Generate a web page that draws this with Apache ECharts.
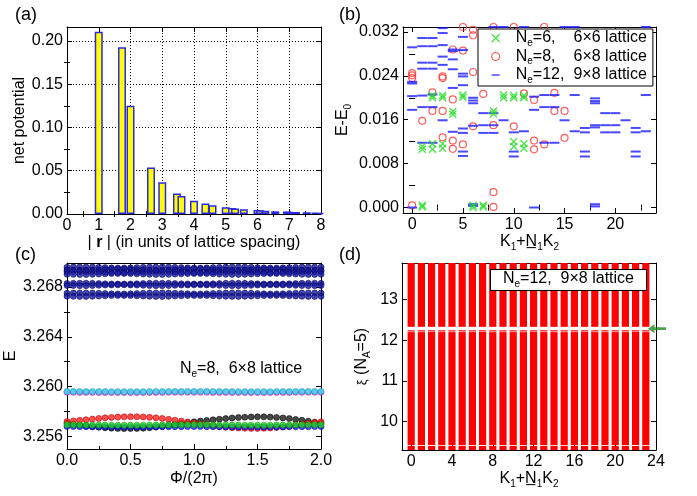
<!DOCTYPE html>
<html>
<head>
<meta charset="utf-8">
<title>figure</title>
<script src="https://cdn.jsdelivr.net/npm/echarts@6/dist/echarts.min.js"></script>
<style>body{margin:0;background:#fff}</style>
</head>
<body>
<div id="main" style="width:697px;height:496px;"></div>
<script type="text/javascript">
// ---- (a) net potential vs distance
var rDist  = [1, 1.732, 2, 2.646, 3, 3.464, 3.606, 4, 4.359, 4.583, 5, 5.196, 5.292, 5.568, 6, 6.083, 6.245, 6.557, 6.928, 7, 7.211, 7.550, 7.810, 8];
var netPot = [0.2104, 0.1926, 0.1249, 0.0536, 0.0366, 0.0236, 0.0209, 0.0153, 0.0122, 0.0101, 0.0077, 0.0070, 0.0064, 0.0054, 0.0046, 0.0042, 0.0037, 0.0031, 0.0029, 0.0026, 0.0023, 0.0020, 0.0016, 0.0014];

// ---- (b) spectra [K, E-E0]
var ne6 = [[1,0.0004],[1,0.0001],[1,0.0111],[1,0.0106],[2,0.0116],[2,0.0106],[2,0.0204],[2,0.0200],
  [3,0.0116],[3,0.0108],[3,0.0204],[3,0.0200],[4,0.0175],[4,0.0170],[5,0.0205],[5,0.0201],
  [6,0.0004],[6,0.0000],[7,0.0004],[7,0.0001],[8,0.0176],[8,0.0171],[9,0.0205],[9,0.0200],
  [10,0.0204],[10,0.0200],[10,0.0120],[10,0.0111],[11,0.0204],[11,0.0200],[11,0.0116],[11,0.0108]];
var ne8 = [[0,0.0004],[0,0.0245],[0,0.0241],[0,0.0236],[1,0.0158],[2,0.0210],[2,0.0176],
  [3,0.0239],[3,0.0236],[3,0.0176],[3,0.0128],[4,0.0288],[4,0.0197],[4,0.0122],[4,0.0107],
  [5,0.0329],[5,0.0286],[5,0.0115],[6,0.0324],[6,0.0314],[6,0.0247],[6,0.0148],[7,0.0207],
  [8,0.0329],[8,0.0150],[8,0.0028],[8,0.0001],[10,0.0329],[10,0.0148],[11,0.0208],
  [12,0.0196],[12,0.0122],[12,0.0106],[13,0.0329],[13,0.0115],[14,0.0209],[14,0.0176],
  [15,0.0176],[15,0.0127]];
var ne12 = [[0,0.0292],[0,0.0229],[0,0.0226],[0,0.0203],[0,0.0178],[0,0.0000],
  [1,0.0309],[1,0.0294],[1,0.0264],[1,0.0253],[1,0.0204],[1,0.0183],[1,0.0118],
  [2,0.0309],[2,0.0294],[2,0.0264],[2,0.0253],[2,0.0206],[2,0.0183],[2,0.0118],
  [3,0.0327],[3,0.0318],[3,0.0296],[3,0.0275],[3,0.0260],[3,0.0159],
  [4,0.0288],[4,0.0285],[4,0.0270],[4,0.0252],[4,0.0218],[4,0.0138],
  [5,0.0330],[5,0.0311],[5,0.0287],[5,0.0244],[5,0.0239],[5,0.0223],[5,0.0144],[5,0.0136],[5,0.0102],[5,0.0094],
  [6,0.0200],[6,0.0195],[6,0.0190],[6,0.0149],[6,0.0006],[6,0.0003],
  [7,0.0172],[7,0.0150],[7,0.0136],[8,0.0329],[8,0.0172],[8,0.0150],[8,0.0136],
  [9,0.0329],[9,0.0159],[10,0.0137],[10,0.0102],[10,0.0093],[11,0.0329],[11,0.0139],
  [12,0.0202],[12,0.0178],[12,0.0000],[13,0.0205],[13,0.0183],[13,0.0118],
  [14,0.0205],[14,0.0183],[14,0.0118],[15,0.0329],[15,0.0159],[16,0.0329],[16,0.0205],[16,0.0139],
  [17,0.0145],[17,0.0137],[17,0.0102],[17,0.0093],
  [18,0.0199],[18,0.0194],[18,0.0190],[18,0.0150],[18,0.0146],[18,0.0006],[18,0.0002],
  [19,0.0172],[19,0.0150],[19,0.0137],[20,0.0172],[20,0.0150],[20,0.0137],[21,0.0159],
  [22,0.0145],[22,0.0137],[22,0.0102],[22,0.0093],[23,0.0329],[23,0.0205],[23,0.0139]];

// ---- (c) flux insertion
var phi = [0,0.05,0.1,0.15,0.2,0.25,0.3,0.35,0.4,0.45,
  0.5,0.55,0.6,0.65,0.7,0.75,0.8,0.85,0.9,0.95,
  1,1.05,1.1,1.15,1.2,1.25,1.3,1.35,1.4,1.45,
  1.5,1.55,1.6,1.65,1.7,1.75,1.8,1.85,1.9,1.95,2];
var cRed = [3.25720,3.25725,3.25730,3.25735,3.25740,3.25745,3.25750,3.25753,3.25756,3.25758,
  3.25759,3.25759,3.25757,3.25754,3.25750,3.25745,3.25738,3.25731,3.25724,3.25716,
  3.25708,3.25700,3.25693,3.25686,3.25680,3.25675,3.25671,3.25668,3.25666,3.25665,
  3.25665,3.25666,3.25668,3.25672,3.25677,3.25683,3.25690,3.25698,3.25705,3.25712,3.25718];
var cBlack = [3.25706,3.25699,3.25692,3.25685,3.25679,3.25674,3.25670,3.25667,3.25665,3.25664,
  3.25664,3.25665,3.25667,3.25671,3.25676,3.25682,3.25689,3.25697,3.25704,3.25711,
  3.25718,3.25724,3.25729,3.25734,3.25739,3.25744,3.25749,3.25752,3.25755,3.25757,
  3.25758,3.25758,3.25756,3.25753,3.25749,3.25744,3.25737,3.25730,3.25723,3.25715,3.25707];
var cBlue = [3.25680,3.25680,3.25679,3.25679,3.25678,3.25678,3.25677,3.25677,3.25677,3.25676,
  3.25676,3.25676,3.25677,3.25677,3.25677,3.25678,3.25678,3.25679,3.25679,3.25680,
  3.25680,3.25680,3.25679,3.25679,3.25678,3.25678,3.25677,3.25677,3.25677,3.25676,
  3.25676,3.25676,3.25677,3.25677,3.25677,3.25678,3.25678,3.25679,3.25679,3.25680,3.25680];
var cGreen = [3.25694,3.25694,3.25693,3.25693,3.25692,3.25692,3.25692,3.25691,3.25691,3.25691,
  3.25691,3.25691,3.25691,3.25692,3.25692,3.25693,3.25693,3.25694,3.25694,3.25695,
  3.25695,3.25695,3.25694,3.25694,3.25693,3.25693,3.25692,3.25692,3.25691,3.25691,
  3.25691,3.25691,3.25691,3.25692,3.25692,3.25693,3.25693,3.25694,3.25694,3.25695,3.25695];
var cMagenta = [3.25955,3.25955,3.25954,3.25954,3.25954,3.25953,3.25953,3.25953,3.25953,3.25953,
  3.25953,3.25953,3.25953,3.25954,3.25954,3.25954,3.25955,3.25955,3.25955,3.25955,
  3.25955,3.25955,3.25955,3.25954,3.25954,3.25954,3.25953,3.25953,3.25953,3.25953,
  3.25953,3.25953,3.25953,3.25954,3.25954,3.25954,3.25955,3.25955,3.25955,3.25955,3.25955];
var cCyan = [3.25962,3.25962,3.25962,3.25961,3.25961,3.25961,3.25961,3.25960,3.25960,3.25960,
  3.25960,3.25960,3.25960,3.25961,3.25961,3.25961,3.25961,3.25962,3.25962,3.25962,
  3.25962,3.25962,3.25962,3.25961,3.25961,3.25961,3.25961,3.25960,3.25960,3.25960,
  3.25960,3.25960,3.25960,3.25961,3.25961,3.25961,3.25961,3.25962,3.25962,3.25962,3.25962];
var cNavy1 = [3.26958,3.26959,3.26960,3.26960,3.26959,3.26957,3.26955,3.26953,3.26952,3.26952,
  3.26953,3.26955,3.26957,3.26959,3.26960,3.26960,3.26959,3.26957,3.26955,3.26953,
  3.26952,3.26952,3.26953,3.26955,3.26957,3.26959,3.26960,3.26960,3.26959,3.26957,
  3.26955,3.26953,3.26952,3.26952,3.26953,3.26955,3.26957,3.26959,3.26960,3.26960,3.26959];
var cNavy2 = [3.26936,3.26935,3.26934,3.26934,3.26935,3.26937,3.26939,3.26941,3.26942,3.26942,
  3.26941,3.26939,3.26937,3.26935,3.26934,3.26934,3.26935,3.26937,3.26939,3.26941,
  3.26942,3.26942,3.26941,3.26939,3.26937,3.26935,3.26934,3.26934,3.26935,3.26937,
  3.26939,3.26941,3.26942,3.26942,3.26941,3.26939,3.26937,3.26935,3.26934,3.26934,3.26935];
var cNavy3 = [3.26922,3.26923,3.26924,3.26924,3.26923,3.26921,3.26919,3.26917,3.26916,3.26916,
  3.26917,3.26919,3.26921,3.26923,3.26924,3.26924,3.26923,3.26921,3.26919,3.26917,
  3.26916,3.26916,3.26917,3.26919,3.26921,3.26923,3.26924,3.26924,3.26923,3.26921,
  3.26919,3.26917,3.26916,3.26916,3.26917,3.26919,3.26921,3.26923,3.26924,3.26924,3.26923];
var cNavy4 = [3.26902,3.26901,3.26900,3.26900,3.26901,3.26903,3.26905,3.26907,3.26908,3.26908,
  3.26907,3.26905,3.26903,3.26901,3.26900,3.26900,3.26901,3.26903,3.26905,3.26907,
  3.26908,3.26908,3.26907,3.26905,3.26903,3.26901,3.26900,3.26900,3.26901,3.26903,
  3.26905,3.26907,3.26908,3.26908,3.26907,3.26905,3.26903,3.26901,3.26900,3.26900,3.26901];
var cNavy5 = [3.26828,3.26829,3.26830,3.26830,3.26829,3.26827,3.26825,3.26824,3.26823,3.26823,
  3.26824,3.26825,3.26827,3.26829,3.26830,3.26830,3.26829,3.26827,3.26825,3.26824,
  3.26823,3.26823,3.26824,3.26825,3.26827,3.26829,3.26830,3.26830,3.26829,3.26827,
  3.26825,3.26824,3.26823,3.26823,3.26824,3.26825,3.26827,3.26829,3.26830,3.26830,3.26829];
var cNavy6 = [3.26812,3.26811,3.26810,3.26810,3.26811,3.26813,3.26815,3.26816,3.26817,3.26817,
  3.26816,3.26815,3.26813,3.26811,3.26810,3.26810,3.26811,3.26813,3.26815,3.26816,
  3.26817,3.26817,3.26816,3.26815,3.26813,3.26811,3.26810,3.26810,3.26811,3.26813,
  3.26815,3.26816,3.26817,3.26817,3.26816,3.26815,3.26813,3.26811,3.26810,3.26810,3.26811];
var cNavy7 = [3.26750,3.26751,3.26752,3.26752,3.26751,3.26749,3.26747,3.26745,3.26744,3.26744,
  3.26745,3.26747,3.26749,3.26751,3.26752,3.26752,3.26751,3.26749,3.26747,3.26745,
  3.26744,3.26744,3.26745,3.26747,3.26749,3.26751,3.26752,3.26752,3.26751,3.26749,
  3.26747,3.26745,3.26744,3.26744,3.26745,3.26747,3.26749,3.26751,3.26752,3.26752,3.26751];
var cNavy8 = [3.26726,3.26725,3.26724,3.26724,3.26725,3.26727,3.26729,3.26731,3.26732,3.26732,
  3.26731,3.26729,3.26727,3.26725,3.26724,3.26724,3.26725,3.26727,3.26729,3.26731,
  3.26732,3.26732,3.26731,3.26729,3.26727,3.26725,3.26724,3.26724,3.26725,3.26727,
  3.26729,3.26731,3.26732,3.26732,3.26731,3.26729,3.26727,3.26725,3.26724,3.26724,3.26725];

// ---- (d) entanglement spectrum, levels fill these ranges in every momentum sector
var kSectors = [0,1,2,3,4,5,6,7,8,9,10,11,12,13,14,15,16,17,18,19,20,21,22,23];
var bandLo = [9.25, 9.42, 12.215, 12.33];
var bandHi = [9.40, 12.20, 12.245, 14.0];
var arrowAt = [24.09, 12.285];

var FONT = '"Liberation Sans", Arial, Helvetica, sans-serif';
var RICH = {
  a: {fontSize: 16, fontFamily: FONT, color: '#000', fontWeight: 'normal', lineHeight: 20},
  b: {fontSize: 16, fontFamily: FONT, color: '#000', fontWeight: 'bold', lineHeight: 20},
  x: {fontSize: 13, fontFamily: FONT, color: '#000', fontWeight: 'normal', lineHeight: 20},
  s: {fontSize: 10, fontFamily: FONT, color: '#000', fontWeight: 'normal', lineHeight: 12, verticalAlign: 'bottom'},
  g0: {width: 11, fontSize: 16, lineHeight: 20},
  g1: {width: 18, fontSize: 16, lineHeight: 20},
  g2: {width: 9, fontSize: 16, lineHeight: 20}
};

var xAxes = [], yAxes = [];
// one labelled axis + a mirrored one, each with a minor-tick twin
function frame(list, gi, dim, min, max, majors, minors, fmt, name, nameGap, extra) {
  var pos = dim === 'x' ? ['bottom', 'top'] : ['left', 'right'];
  var idx = list.length;
  pos.forEach(function (p, side) {
    var ax = {
      gridIndex: gi, type: 'value', min: min, max: max, position: p,
      axisLine: {show: true, onZero: false, lineStyle: {color: '#000', width: 1}},
      axisTick: {show: true, inside: true, length: 5, customValues: majors, lineStyle: {color: '#000'}},
      axisLabel: side === 0 ? {show: true, customValues: majors, formatter: fmt, color: '#000',
        fontSize: 16, fontFamily: FONT, margin: 4} : {show: false},
      splitLine: {show: false}
    };
    if (side === 0) {
      ax.name = name; ax.nameLocation = 'middle'; ax.nameGap = nameGap;
      ax.nameTextStyle = {color: '#000', fontSize: 16, fontFamily: FONT, rich: RICH};
      Object.assign(ax, extra || {});
    }
    list.push(ax);
    list.push({
      gridIndex: gi, type: 'value', min: min, max: max, position: p,
      axisLine: {show: false},
      axisTick: {show: true, inside: true, length: 3, customValues: minors, lineStyle: {color: '#000'}},
      axisLabel: {show: false}, splitLine: {show: false}
    });
  });
  return idx;
}
function f(n) { return function (v) { return v.toFixed(n); }; }
var dotted = {show: true, lineStyle: {type: [1, 2], color: '#000', width: 1}};

var ax = {
  a: {
    x: frame(xAxes, 0, 'x', 0, 8, [0,1,2,3,4,5,6,7,8], [0.5,1.5,2.5,3.5,4.5,5.5,6.5,7.5], f(0),
      '{a|| }{b|r}{a| | (in units of lattice spacing)}', 17, {interval: 1, splitLine: dotted}),
    y: frame(yAxes, 0, 'y', 0, 0.216, [0,0.05,0.1,0.15,0.2], [0.025,0.075,0.125,0.175], f(2),
      'net potential', 36, {interval: 0.05, splitLine: dotted})
  },
  b: {
    x: frame(xAxes, 1, 'x', -0.9, 24, [0,5,10,15,20], [2.5,7.5,12.5,17.5,22.5], f(0),
      '{a|K}{s|1}{a|+N\u0332}{s|1}{a|K}{s|2}', 17),
    y: frame(yAxes, 1, 'y', -0.001, 0.0329, [0,0.008,0.016,0.024,0.032], [0.004,0.012,0.020,0.028], f(3),
      '{a|E-E}{s|0}', 50)
  },
  c: {
    x: frame(xAxes, 2, 'x', 0, 2, [0,0.5,1,1.5,2], [0.25,0.75,1.25,1.75], f(1),
      'Φ/(2π)', 22),
    y: frame(yAxes, 2, 'y', 3.255, 3.26992, [3.256,3.26,3.264,3.268], [3.258,3.262,3.266], f(3),
      'E', 44)
  },
  d: {
    x: frame(xAxes, 3, 'x', -0.9, 24, [0,4,8,12,16,20,24], [2,6,10,14,18,22], f(0),
      '{a|K}{s|1}{a|+N\u0332}{s|1}{a|K}{s|2}', 19),
    y: frame(yAxes, 3, 'y', 9.3, 13.9, [10,11,12,13], [9.5,10.5,11.5,12.5,13.5], f(0),
      '{x|ξ}{a| (N}{s|A}{a|=5)}', 30)
  }
};

function zip(xs, ys) { return ys.map(function (v, i) { return [xs[i], v]; }); }
function dots(data, fill, edge) {
  return {
    type: 'scatter', xAxisIndex: ax.c.x, yAxisIndex: ax.c.y, data: zip(phi, data),
    symbol: 'circle', symbolSize: 6, silent: true,
    itemStyle: {color: fill, borderColor: edge, borderWidth: 0.7}
  };
}

var bandData = [];
kSectors.forEach(function (k) {
  bandLo.forEach(function (lo, j) { bandData.push([k, lo, bandHi[j]]); });
});

var crossPath = 'path://M0,0L10,10M0,10L10,0';
var dashPath = 'path://M0,0h0.05v0.05h-0.05zM0,4.1h10v1.8h-10zM9.95,9.95h0.05v0.05h-0.05z';
var legendText = {
  ne6: '{g0| }{a|N}{s|e}{a|=6,}{g1| }{a|6×6 lattice}',
  ne8: '{g0| }{a|N}{s|e}{a|=8,}{g1| }{a|6×8 lattice}',
  ne12: '{g0| }{a|N}{s|e}{a|=12,}{g2| }{a|9×8 lattice}'
};
var NAVY = '#1818a0', NAVY_EDGE = '#000058';

var myChart = echarts.init(document.getElementById('main'));
var option = {
  animation: false,
  backgroundColor: '#fff',
  textStyle: {fontFamily: FONT},
  title: [
    {text: '(a)', left: 10, top: 1, textStyle: {fontSize: 18, fontWeight: 'normal', color: '#000', fontFamily: FONT}},
    {text: '(b)', left: 334, top: 1, textStyle: {fontSize: 18, fontWeight: 'normal', color: '#000', fontFamily: FONT}},
    {text: '(c)', left: 10, top: 241, textStyle: {fontSize: 18, fontWeight: 'normal', color: '#000', fontFamily: FONT}},
    {text: '(d)', left: 334, top: 241, textStyle: {fontSize: 18, fontWeight: 'normal', color: '#000', fontFamily: FONT}},
    {text: '{a|N}{s|e}{a|=8,  6×8 lattice}', left: 180, top: 359, padding: 0,
      textStyle: {fontWeight: 'normal', rich: RICH}},
    {text: '{a|N}{s|e}{a|=12,  9×8 lattice}', left: 490, top: 267, padding: [2, 13, 2, 13],
      backgroundColor: '#fff', borderColor: '#000', borderWidth: 1,
      textStyle: {fontWeight: 'normal', rich: RICH}}
  ],
  legend: {
    left: 478, top: 29, orient: 'vertical', selectedMode: false,
    backgroundColor: '#fff', borderColor: '#000', borderWidth: 1, borderRadius: 0,
    padding: [1, 6, 1, 13], itemGap: 0.5, itemWidth: 8, itemHeight: 8,
    formatter: function (name) { return legendText[name]; },
    textStyle: {rich: RICH},
    data: [
      {name: 'ne6', icon: crossPath, itemStyle: {color: 'rgba(0,0,0,0)', borderColor: '#22dd22', borderWidth: 1.4}},
      {name: 'ne8', icon: 'circle', itemStyle: {color: 'rgba(0,0,0,0)', borderColor: '#ff3333', borderWidth: 1.2}},
      {name: 'ne12', icon: dashPath, itemStyle: {color: '#1a1aff', borderWidth: 0}}
    ]
  },
  grid: [
    {left: 67, top: 27, width: 254, height: 187, show: false},
    {left: 403, top: 27, width: 253, height: 186, show: false},
    {left: 67, top: 263, width: 254, height: 186, show: false},
    {left: 402, top: 263, width: 254, height: 187, show: false}
  ],
  xAxis: xAxes,
  yAxis: yAxes,
  series: [
    {
      type: 'bar', xAxisIndex: ax.a.x, yAxisIndex: ax.a.y, data: zip(rDist, netPot),
      barWidth: 8, clip: true, silent: true,
      itemStyle: {color: '#ffff00', borderColor: '#2a2ae6', borderWidth: 1.5}
    },
    {
      name: 'ne8', type: 'scatter', xAxisIndex: ax.b.x, yAxisIndex: ax.b.y, data: ne8,
      symbol: 'circle', symbolSize: 7, silent: true,
      itemStyle: {color: 'rgba(0,0,0,0)', borderColor: '#ff3333', borderWidth: 1.2}
    },
    {
      name: 'ne12', type: 'scatter', xAxisIndex: ax.b.x, yAxisIndex: ax.b.y, data: ne12,
      symbol: 'rect', symbolSize: [10, 2], silent: true,
      itemStyle: {color: '#1a1aff'}
    },
    {
      name: 'ne6', type: 'scatter', xAxisIndex: ax.b.x, yAxisIndex: ax.b.y, data: ne6,
      symbol: crossPath, symbolSize: 7, silent: true,
      itemStyle: {color: 'rgba(0,0,0,0)', borderColor: '#22dd22', borderWidth: 1.4}
    },
    dots(cNavy1, NAVY, NAVY_EDGE), dots(cNavy2, NAVY, NAVY_EDGE),
    dots(cNavy3, NAVY, NAVY_EDGE), dots(cNavy4, NAVY, NAVY_EDGE),
    dots(cNavy5, NAVY, NAVY_EDGE), dots(cNavy6, NAVY, NAVY_EDGE),
    dots(cNavy7, NAVY, NAVY_EDGE), dots(cNavy8, NAVY, NAVY_EDGE),
    dots(cMagenta, '#ff33ff', '#b000b0'), dots(cCyan, '#33e3f0', '#109aa8'),
    dots(cBlack, '#1a1a1a', '#000000'), dots(cRed, '#ff2020', '#b00000'),
    dots(cBlue, '#1a1aff', '#0000a0'), dots(cGreen, '#22dd22', '#0a8a0a'),
    {
      type: 'custom', xAxisIndex: ax.d.x, yAxisIndex: ax.d.y, data: bandData, silent: true,
      renderItem: function (params, api) {
        var top = api.coord([api.value(0), api.value(2)]);
        var bot = api.coord([api.value(0), api.value(1)]);
        var cs = params.coordSys;
        var shape = echarts.graphic.clipRectByRect(
          {x: top[0] - 3.6, y: top[1], width: 7.2, height: bot[1] - top[1]},
          {x: cs.x, y: cs.y, width: cs.width, height: cs.height});
        return shape && {type: 'rect', shape: shape, style: {fill: '#ff0000'}};
      }
    },
    {
      type: 'scatter', xAxisIndex: ax.d.x, yAxisIndex: ax.d.y, data: [arrowAt], clip: false, silent: true,
      symbol: 'path://M0,5L8,0L8,3.4L22,3.4L22,6.6L8,6.6L8,10Z', symbolSize: [18, 9],
      itemStyle: {color: '#1d8a1d'}, z: 10
    }
  ]
};
myChart.setOption(option);
</script>
</body>
</html>
